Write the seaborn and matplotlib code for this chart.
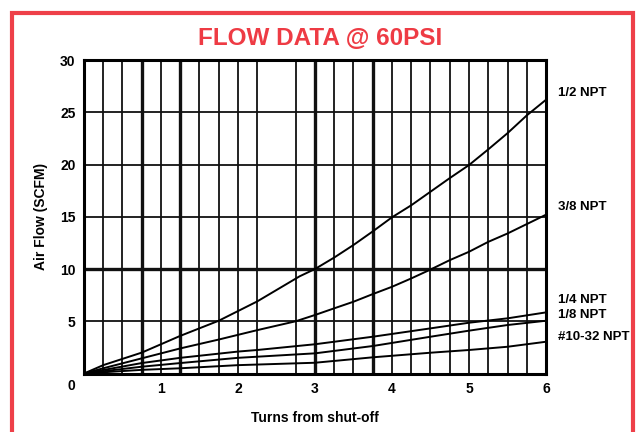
import matplotlib
matplotlib.use("Agg")
import matplotlib.pyplot as plt
from matplotlib.patches import Rectangle
import seaborn as sns
import pandas as pd

sns.set_theme(style="white")
plt.rcParams["font.family"] = ["Liberation Sans", "DejaVu Sans"]
plt.rcParams["text.color"] = "black"
plt.rcParams["axes.labelcolor"] = "black"
plt.rcParams["xtick.color"] = "black"
plt.rcParams["ytick.color"] = "black"

# Air flow (SCFM) vs. turns from shut-off, per port size
x_half = [0, 0.25, 0.75, 1.25, 1.75, 2.25, 2.8, 3.0, 3.25, 3.5, 3.75, 4.0, 4.25, 4.5, 4.75, 5.0, 5.25, 5.5, 5.75, 6.0]
y_half = [0, 0.8, 2.0, 3.6, 5.05, 6.9, 9.3, 10.0, 11.1, 12.3, 13.6, 14.95, 16.1, 17.4, 18.7, 19.95, 21.45, 23.0, 24.7, 26.2]

x_3_8 = [0, 0.25, 0.75, 1.25, 1.75, 2.25, 2.75, 3.0, 3.25, 3.5, 3.75, 4.0, 4.25, 4.5, 4.75, 5.0, 5.25, 5.5, 5.75, 6.0]
y_3_8 = [0, 0.5, 1.45, 2.4, 3.25, 4.15, 5.0, 5.6, 6.24, 6.87, 7.6, 8.3, 9.1, 9.95, 10.85, 11.65, 12.6, 13.4, 14.3, 15.2]

x_1_4 = [0, 0.75, 1.25, 2.0, 2.25, 3.0, 3.75, 4.5, 5.0, 5.5, 6.0]
y_1_4 = [0, 1.0, 1.5, 2.1, 2.25, 2.8, 3.52, 4.32, 4.86, 5.28, 5.85]

x_1_8 = [0, 0.75, 1.25, 2.0, 3.0, 3.75, 4.5, 5.0, 5.5, 6.0]
y_1_8 = [0, 0.65, 1.0, 1.5, 1.93, 2.63, 3.52, 4.1, 4.64, 5.05]

x_10_32 = [0, 0.75, 1.25, 2.0, 3.0, 3.75, 4.5, 5.0, 5.5, 6.0]
y_10_32 = [0, 0.35, 0.5, 0.8, 1.03, 1.55, 1.99, 2.25, 2.56, 3.04]

series = {
    "1/2 NPT": (x_half, y_half),
    "3/8 NPT": (x_3_8, y_3_8),
    "1/4 NPT": (x_1_4, y_1_4),
    "1/8 NPT": (x_1_8, y_1_8),
    "#10-32 NPT": (x_10_32, y_10_32),
}
label_y = {"1/2 NPT": 26.8, "3/8 NPT": 15.9, "1/4 NPT": 7.0, "1/8 NPT": 5.6, "#10-32 NPT": 3.5}

x_ticks = [1, 2, 3, 4, 5, 6]
y_ticks = [5, 10, 15, 20, 25, 30]
x_grid = [0.25, 0.5, 0.75, 1.0, 1.25, 1.5, 1.75, 2.0, 2.25, 2.75, 3.0, 3.25, 3.5, 3.75,
          4.0, 4.25, 4.5, 4.75, 5.0, 5.25, 5.5, 5.75]
x_heavy = [0.75, 1.25, 3.0, 3.75]
y_heavy = [10]

rows = []
for name, (xs, ys) in series.items():
    for xv, yv in zip(xs, ys):
        rows.append({"turns": xv, "flow": yv, "port": name})
df = pd.DataFrame(rows)

fig = plt.figure(figsize=(6.36, 4.32), dpi=100)
ax = fig.add_axes([0.132, 0.1354, 0.7265, 0.7256])

for gx in x_grid:
    ax.axvline(gx, color="#111111", lw=2.4 if gx in x_heavy else 1.3, zorder=1)
for gy in y_ticks[:-1]:
    ax.axhline(gy, color="#111111", lw=2.4 if gy in y_heavy else 1.3, zorder=1)

sns.lineplot(data=df, x="turns", y="flow", hue="port", sort=False,
             palette={k: "black" for k in series}, legend=False,
             linewidth=1.4, ax=ax, zorder=3)

ax.set_xlim(0, 6)
ax.set_ylim(0, 30)
ax.set_xticks(x_ticks)
ax.set_yticks(y_ticks)
ax.tick_params(length=0, labelsize=10, pad=6)
for lab in ax.get_xticklabels() + ax.get_yticklabels():
    lab.set_fontweight("bold")
ax.annotate("0", xy=(0, 0), xytext=(-9, -9), textcoords="offset points",
            ha="center", va="center", fontsize=10, fontweight="bold")

for sp in ax.spines.values():
    sp.set_color("black")
    sp.set_linewidth(2.2)

ax.set_xlabel("Turns from shut-off", fontsize=10, fontweight="bold", labelpad=11)
ax.set_ylabel("Air Flow (SCFM)", fontsize=10, fontweight="bold", labelpad=9)

for name, yv in label_y.items():
    ax.text(6.15, yv, name, fontsize=9.5, fontweight="bold",
            ha="left", va="center", clip_on=False)

fig.text(0.503, 0.912, "FLOW DATA @ 60PSI", color="#EE3B44", fontsize=17.5,
         fontweight="bold", ha="center", va="center")

fig.add_artist(Rectangle((12 / 636, -0.05), (633 - 12) / 636, 1.05 - 13 / 432,
                         transform=fig.transFigure, fill=False,
                         edgecolor="#EE4049", linewidth=3))

fig.savefig("out.png", dpi=100)
